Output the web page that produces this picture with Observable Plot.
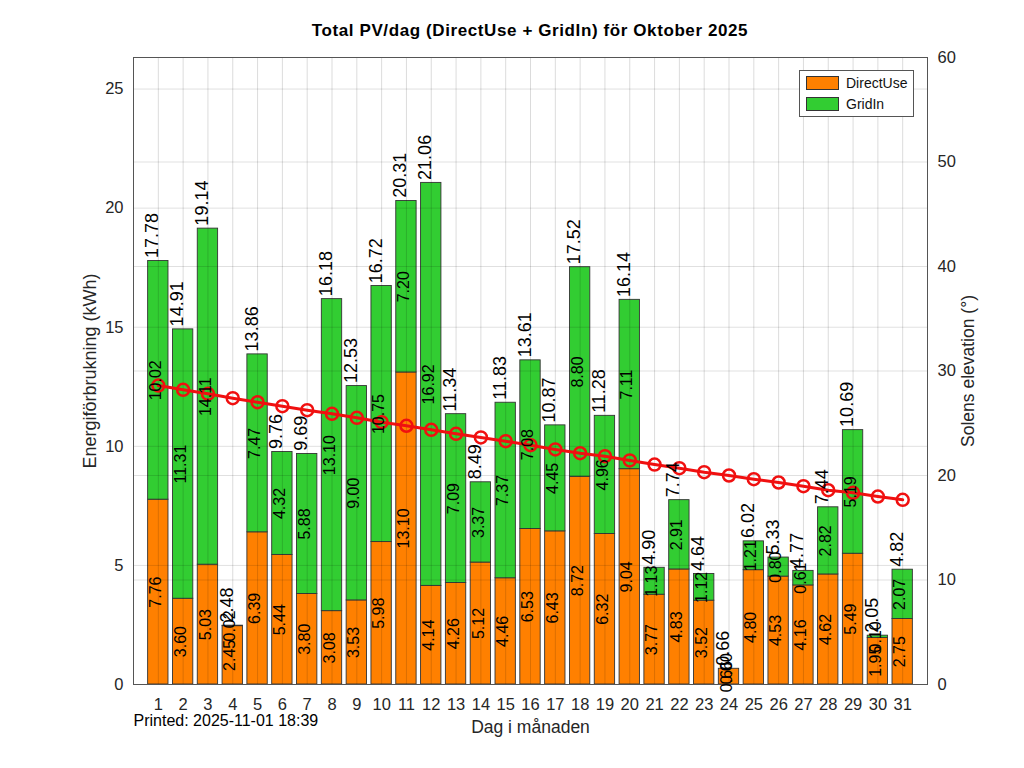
<!DOCTYPE html>
<html>
<head>
<meta charset="utf-8">
<script src="https://cdn.jsdelivr.net/npm/d3@7"></script>
<script src="https://cdn.jsdelivr.net/npm/@observablehq/plot@0.6"></script>
<style>
  html, body { margin: 0; padding: 0; background: #fff; }
  body { width: 1024px; height: 768px; position: relative; overflow: hidden; font-family: "Liberation Sans", Arial, sans-serif; }
  #title { height: 45px; box-sizing: border-box; padding-top: 21px; padding-left: 133px; width: 927px; text-align: center; font-weight: bold; font-size: 17px; letter-spacing: 0.6px; line-height: 20px; color: #000; }
  #legend { position: absolute; left: 799px; top: 70px; width: 115px; height: 47px; box-sizing: border-box; border: 1px solid #555; background: #fff; font-size: 14px; color: #111; }
  .item { position: absolute; left: 6px; height: 14px; display: flex; align-items: center; }
  .sw { width: 31px; height: 12px; border: 1px solid #333; margin-right: 7px; }
</style>
</head>
<body>
<div id="title">Total PV/dag (DirectUse + GridIn) för Oktober 2025</div>
<div id="chart"></div>
<div id="legend">
  <div class="item" style="top:5px"><div class="sw" style="background:#FF8000"></div>DirectUse</div>
  <div class="item" style="top:26px"><div class="sw" style="background:#32CD32"></div>GridIn</div>
</div>
<script>
const days = [1,2,3,4,5,6,7,8,9,10,11,12,13,14,15,16,17,18,19,20,21,22,23,24,25,26,27,28,29,30,31];
const directUse = [7.76,3.60,5.03,2.45,6.39,5.44,3.80,3.08,3.53,5.98,13.10,4.14,4.26,5.12,4.46,6.53,6.43,8.72,6.32,9.04,3.77,4.83,3.52,0.66,4.80,4.53,4.16,4.62,5.49,1.95,2.75];
const gridIn = [10.02,11.31,14.11,0.02,7.47,4.32,5.88,13.10,9.00,10.75,7.20,16.92,7.09,3.37,7.37,7.08,4.45,8.80,4.96,7.11,1.13,2.91,1.12,0.00,1.21,0.80,0.61,2.82,5.19,0.10,2.07];
const totals = [17.78,14.91,19.14,2.48,13.86,9.76,9.69,16.18,12.53,16.72,20.31,21.06,11.34,8.49,11.83,13.61,10.87,17.52,11.28,16.14,4.90,7.74,4.64,0.66,6.02,5.33,4.77,7.44,10.69,2.05,4.82];
const elevation = [28.61,28.20,27.82,27.40,27.01,26.63,26.25,25.90,25.52,25.10,24.76,24.37,23.99,23.64,23.28,22.90,22.49,22.13,21.85,21.44,21.05,20.70,20.32,20.00,19.65,19.33,18.98,18.59,18.34,17.99,17.67];
const leftTicks = [0,5,10,15,20,25];
const rightTicks = [0,10,20,30,40,50,60];
const leftMax = 26.325;
const rightMax = 60;
const k = leftMax / rightMax;

const data = days.map((d, i) => ({
  day: d, direct: directUse[i], grid: gridIn[i], total: totals[i], elev: elevation[i]
}));
const halfW = 0.41;
const fmt = v => v.toFixed(2);

const plot = Plot.plot({
  width: 1024,
  height: 723,
  marginTop: 12,
  marginLeft: 133,
  marginRight: 97,
  marginBottom: 84,
  style: { fontFamily: '"Liberation Sans", Arial, sans-serif', fontSize: "16px", color: "#262626", overflow: "visible", background: "#fff" },
  x: { type: "linear", domain: [0, 32], axis: null },
  y: { type: "linear", domain: [0, leftMax], axis: null },
  marks: [
    Plot.rectY(data, { x1: d => d.day - halfW, x2: d => d.day + halfW, y1: 0, y2: "direct", fill: "#FF8000", stroke: "#333", strokeWidth: 0.9 }),
    Plot.rectY(data, { x1: d => d.day - halfW, x2: d => d.day + halfW, y1: "direct", y2: d => d.direct + d.grid, fill: "#32CD32", stroke: "#333", strokeWidth: 0.9 }),
    Plot.ruleX(days, { stroke: "#000", strokeOpacity: 0.14 }),
    Plot.ruleY(leftTicks, { stroke: "#000", strokeOpacity: 0.12 }),
    Plot.ruleY(rightTicks.map(v => v * k), { stroke: "#000", strokeOpacity: 0.12 }),
    Plot.frame({ stroke: "#555" }),
    Plot.axisX({ ticks: days, tickSize: 0, tickPadding: 14, tickFormat: d => String(d), fontSize: 16.5, label: null }),
    Plot.axisY({ anchor: "left", ticks: leftTicks, tickSize: 0, tickPadding: 10, fontSize: 16.5, label: null }),
    Plot.axisY({ anchor: "right", ticks: rightTicks.map(v => v * k), tickFormat: d => String(Math.round(d / k)), tickSize: 0, tickPadding: 10, fontSize: 16.5, label: null }),
    Plot.line(data, { x: "day", y: d => d.elev * k, stroke: "#F01010", strokeWidth: 3 }),
    Plot.dot(data, { x: "day", y: d => d.elev * k, r: 6, stroke: "#F01010", strokeWidth: 2.5, fill: "none" }),
    Plot.text(data, { x: "day", y: d => d.direct / 2, text: d => fmt(d.direct), rotate: -90, textAnchor: "middle", lineAnchor: "middle", dx: -2.5, fontSize: 16, fill: "#000" }),
    Plot.text(data, { x: "day", y: d => d.direct + d.grid / 2, text: d => fmt(d.grid), rotate: -90, textAnchor: "middle", lineAnchor: "middle", dx: -2.5, fontSize: 16, fill: "#000" }),
    Plot.text(data, { x: "day", y: "total", text: d => fmt(d.total), rotate: -90, textAnchor: "start", lineAnchor: "bottom", dy: -3, fontSize: 18, fill: "#000" }),
    Plot.text(["Energiförbrukning (kWh)"], { frameAnchor: "left", rotate: -90, dx: -43, textAnchor: "middle", lineAnchor: "middle", fontSize: 18, fill: "#262626" }),
    Plot.text(["Solens elevation (°)"], { frameAnchor: "right", rotate: -90, dx: 41, textAnchor: "middle", lineAnchor: "middle", fontSize: 17.5, fill: "#262626" }),
    Plot.text(["Dag i månaden"], { frameAnchor: "bottom", dy: 43, textAnchor: "middle", lineAnchor: "middle", fontSize: 17.5, fill: "#262626" }),
    Plot.text(["Printed: 2025-11-01 18:39"], { frameAnchor: "bottom-left", dy: 36, textAnchor: "start", lineAnchor: "middle", fontSize: 16, fill: "#000" })
  ]
});
document.getElementById("chart").appendChild(plot);
</script>
</body>
</html>
